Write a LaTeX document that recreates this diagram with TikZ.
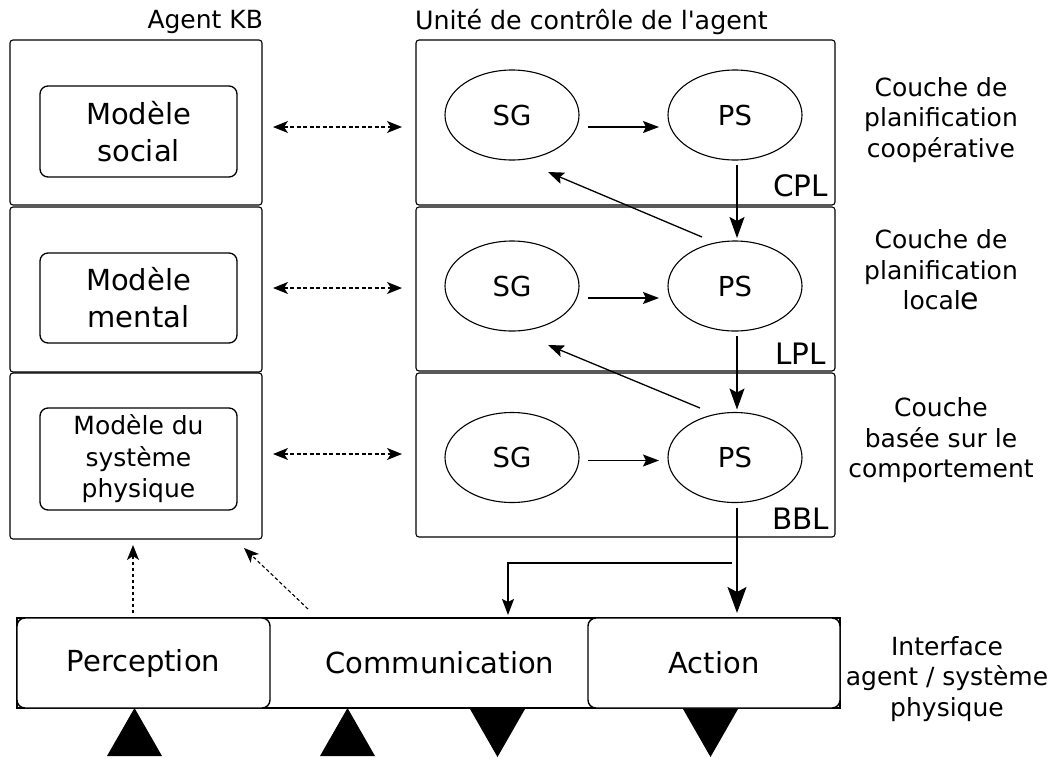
\documentclass[tikz,border=0pt]{standalone}
\usepackage{fontspec}
\setmainfont[Ligatures=TeXOff]{DejaVu Sans}
\usetikzlibrary{arrows.meta,shapes.geometric,calc}
\tikzset{
  smalltip/.tip={Stealth[length=16pt,width=12pt,inset=3pt]},
  dtip/.tip={Stealth[length=15pt,width=12pt,inset=4pt]},
  vtip/.tip={Stealth[length=21pt,width=15pt,inset=4pt]},
  bigtip/.tip={Stealth[length=26pt,width=19pt,inset=5pt]},
}
\begin{document}
\begin{tikzpicture}[x=1pt,y=-1pt,
  every node/.style={inner sep=0pt, outer sep=0pt},
  outerbox/.style={draw, rounded corners=3pt, line width=1.1pt},
  innerbox/.style={draw, rounded corners=8pt, line width=1.3pt, align=center},
  ell/.style={draw, ellipse, line width=1.1pt, minimum width=134pt, minimum height=90pt, font=\fontsize{27.5}{30}\selectfont},
  layername/.style={anchor=base east, font=\fontsize{29.5}{30}\selectfont},
  sidelabel/.style={align=center, font=\fontsize{25}{30.5}\selectfont},
  ifbox/.style={draw, fill=white, rounded corners=8pt, line width=1.4pt, minimum width=253pt, minimum height=90pt, font=\fontsize{29}{32}\selectfont},
  sarr/.style={line width=1.3pt, -smalltip},
  varr/.style={line width=1.5pt, -vtip},
  barr/.style={line width=1.5pt, -bigtip},
  darr/.style={line width=1.3pt, dash pattern=on 4pt off 2.5pt, dtip-dtip},
  dsarr/.style={line width=1.1pt, dash pattern=on 3.5pt off 2.5pt, -dtip},
]
\useasboundingbox (0,0) rectangle (1054,758);

% titles
\node[anchor=base east, font=\fontsize{25}{30}\selectfont] (tkb) at (263,28.5) {Agent KB};
\node[anchor=base west, font=\fontsize{25.3}{30}\selectfont] (tcu) at (415,29) {Unité de contrôle de l'agent};

% Agent KB
\node[outerbox, minimum width=252pt, minimum height=165pt] (kb1) at (136,122.5) {};
\node[outerbox, minimum width=252pt, minimum height=165pt] (kb2) at (136,289.5) {};
\node[outerbox, minimum width=252pt, minimum height=166pt] (kb3) at (136,456) {};
\node[innerbox, minimum width=197pt, minimum height=91pt, font=\fontsize{29}{37}\selectfont] (m1) at (138.5,131.5) {Modèle\\social};
\node[innerbox, minimum width=197pt, minimum height=90pt, font=\fontsize{29}{37}\selectfont] (m2) at (138.5,298) {Modèle\\mental};
\node[innerbox, minimum width=197pt, minimum height=102pt, font=\fontsize{25}{31.5}\selectfont] (m3) at (138.5,459) {Modèle du\\système\\physique};

% control unit
\node[outerbox, minimum width=419pt, minimum height=165pt] (cu1) at (625.5,122.5) {};
\node[outerbox, minimum width=419pt, minimum height=164pt] (cu2) at (625.5,289) {};
\node[outerbox, minimum width=419pt, minimum height=164pt] (cu3) at (625.5,455) {};
\node[ell] (sg1) at (512,115) {SG};
\node[ell] (ps1) at (735,115) {PS};
\node[ell] (sg2) at (512,286) {SG};
\node[ell] (ps2) at (735,286) {PS};
\node[ell] (sg3) at (512,457.5) {SG};
\node[ell] (ps3) at (735,457.5) {PS};
\node[layername] (cpl) at (828,196) {CPL};
\node[layername] (lpl) at (826,364) {LPL};
\node[layername] (bbl) at (829,529) {BBL};

% side labels
\node[sidelabel] (l1) at (941,120) {Couche de\\planification\\coopérative};
\node[sidelabel] (l2) at (941,270) {Couche de\\planification\\local{\fontsize{30}{30.5}\selectfont e}};
\node[sidelabel] (l3) at (941,440.5) {Couche\\basée sur le\\comportement};
\node[sidelabel] (l4) at (947,679) {Interface\\agent / système\\physique};

% interface
\node[draw, line width=1.1pt, minimum width=823pt, minimum height=90pt] (iface) at (428.5,663) {};
\node[ifbox] (perc) at (143.5,663) {Perception};
\node[ifbox, minimum width=252pt] (act) at (714,663) {Action};
\node[font=\fontsize{29}{32}\selectfont] (comm) at (440,663) {Communication};

% triangles
\fill (107,756) -- (134.5,708) -- (162,756) -- cycle;
\fill (320,756) -- (347.5,708) -- (375,756) -- cycle;
\fill (470,709) -- (497.5,757) -- (525,709) -- cycle;
\fill (683,709) -- (710.5,757) -- (738,709) -- cycle;

% connectors in control unit
\draw[sarr] ($(sg1.east)+(9,12)$) -- ($(ps1.west)+(-9,12)$);
\draw[sarr] ($(sg2.east)+(9,12)$) -- ($(ps2.west)+(-9,12)$);
\draw[sarr] ($(sg3.east)+(9,3)$) -- ($(ps3.west)+(-9,3)$);
\draw[varr] ($(ps1.south)+(2,5)$) -- ($(ps2.north)+(2,-3)$);
\draw[varr] ($(ps2.south)+(2,5)$) -- ($(ps3.north)+(2,-3)$);
\draw[sarr] ($(ps2.north)+(-33,-4)$) -- ($(sg1.south)+(36,12)$);
\draw[sarr] ($(ps3.north)+(-35,-4.5)$) -- ($(sg2.south)+(36,14)$);

\coordinate (atop) at ($(act.north)+(23,-5)$);
\coordinate (ctop) at ($(iface.north)+(79.5,-3)$);
\draw[barr] ($(ps3.south)+(2,5)$) -- (atop);
\draw[sarr, line width=1.4pt] ($(ps3.south)+(-3,60.5)$) -| (ctop);

% dashed links KB <-> control
\draw[darr] ($(kb1.east)+(11,4.5)$) -- ($(cu1.west)+(-14,4.5)$);
\draw[darr] ($(kb2.east)+(11,-1.5)$) -- ($(cu2.west)+(-14,-1)$);
\draw[darr] ($(kb3.east)+(11,-2)$) -- ($(cu3.west)+(-14,-1)$);

% dashed from interface to KB
\draw[dsarr] ($(perc.north)+(-10.5,-5)$) -- ($(kb3.south)+(-3,6)$);
\draw[dsarr] ($(perc.north east)+(38,-9)$) -- ($(kb3.south east)+(-18,9)$);
\end{tikzpicture}
\end{document}
